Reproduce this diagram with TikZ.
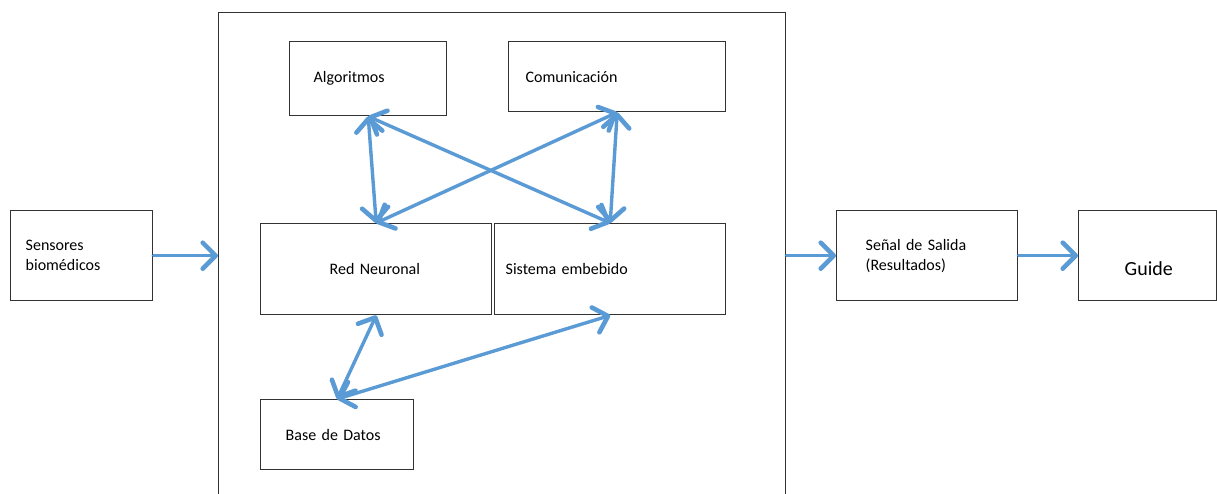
\documentclass[tikz,border=0pt]{standalone}
\usepackage{fontspec}
\setmainfont{Carlito}
\usetikzlibrary{arrows.meta}
\definecolor{linkblue}{RGB}{91,155,213}
\definecolor{boxgray}{RGB}{50,50,50}

\begin{document}
\begin{tikzpicture}[
    x=1pt, y=-1pt,
    block/.style={rectangle, draw=boxgray, line width=1.4pt, fill=white, anchor=north west, align=left, inner ysep=0pt, font=\fontsize{16}{20}\selectfont},
    textpos/.style 2 args={text width=#1, inner xsep=#2},
    barb/.tip={Straight Barb[length=13pt, width=26pt, line width=0pt 1.35, round]},
    link/.style={draw=linkblue, line width=3.4pt, line cap=round, barb-barb},
    flow/.style={draw=linkblue, line width=3.4pt, line cap=round, -barb}
]
\useasboundingbox (0,0) rectangle (1217,493);

% Main modules
\node[block, minimum width=142pt, minimum height=90pt, textpos={112pt}{15pt}] (sensores) at (10,210) {Sensores\\biomédicos};
\node[block, minimum width=567pt, minimum height=486pt] (plataforma) at (218,12) {};
\node[block, minimum width=157pt, minimum height=74pt, textpos={109pt}{24pt}] (algoritmos) at (289,41) {Algoritmos};
\node[block, minimum width=217pt, minimum height=70pt, textpos={183pt}{17pt}] (comunicacion) at (508,41) {Comunicación};
\node[block, minimum width=231pt, minimum height=91pt, textpos={93pt}{69pt}] (red) at (260,223) {Red Neuronal};
\node[block, minimum width=231pt, minimum height=91pt, textpos={209pt}{11pt}] (sistema) at (494,223) {Sistema embebido};
\node[block, minimum width=153pt, minimum height=70pt, textpos={103pt}{25pt}] (base) at (260,399) {Base de Datos};
\node[block, minimum width=181pt, minimum height=90pt, textpos={123pt}{29pt}] (senal) at (836,210) {Señal de Salida\\(Resultados)};
\node[block, minimum width=138pt, minimum height=90pt, textpos={46pt}{46pt}, font=\fontsize{20}{24}\selectfont, text height=40pt, text depth=0pt] (guide) at (1078,210) {Guide};

% Arrows
\draw[flow] (sensores.east) -- (plataforma.west);
\draw[flow] (plataforma.east) -- (senal.west);
\draw[flow] (senal.east) -- (guide.west);
\draw[link] (algoritmos.south) -- (red.north);
\draw[link] (algoritmos.south) -- (sistema.north);
\draw[link] (comunicacion.south) -- (red.north);
\draw[link] (comunicacion.south) -- (sistema.north);
\draw[link] (red.south) -- (base.north);
\draw[link] (sistema.south) -- (base.north);

\end{tikzpicture}
\end{document}
